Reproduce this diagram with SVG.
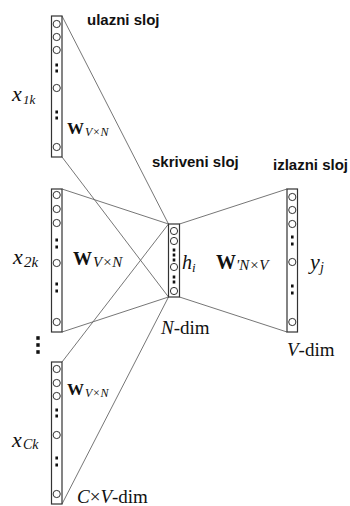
<svg xmlns="http://www.w3.org/2000/svg" width="350" height="506" viewBox="0 0 350 506">
<style>
.box{fill:#fff;stroke:#333;stroke-width:1.2}
.c{fill:#fff;stroke:#333;stroke-width:1}
.d{fill:#111}
.ln{stroke:#666;stroke-width:0.9;fill:none}
.lab{font-family:"Liberation Sans",Arial,sans-serif;font-weight:bold;font-size:15px;fill:#111}
.m{font-family:"Liberation Serif","Times New Roman",serif;fill:#111}
.it{font-style:italic}
.b{font-weight:bold}
</style>
<defs>
<circle id="o" r="3.6" class="c"/>
<rect id="sq" x="-1.3" y="-1.5" width="2.6" height="3" class="d"/>
<rect id="bsq" x="-1.7" y="-1.8" width="3.4" height="3.6" class="d"/>
</defs>
<rect width="350" height="506" fill="#fff"/>
<g id="connectors">
<line class="ln" x1="62" y1="16" x2="168.5" y2="224"/>
<line class="ln" x1="62" y1="157" x2="168.5" y2="297"/>
<line class="ln" x1="62" y1="189" x2="168.5" y2="224"/>
<line class="ln" x1="62" y1="332" x2="168.5" y2="297"/>
<line class="ln" x1="62" y1="362" x2="168.5" y2="224"/>
<line class="ln" x1="62" y1="504" x2="168.5" y2="297"/>
<line class="ln" x1="179.5" y1="224" x2="287" y2="189"/>
<line class="ln" x1="179.5" y1="297" x2="287" y2="332"/>
</g>
<g id="input1">
<rect class="box" x="51.5" y="16" width="10.5" height="141"/>
<use href="#o" x="56.7" y="24"/><use href="#o" x="56.7" y="37"/><use href="#o" x="56.7" y="50"/>
<use href="#sq" x="56.7" y="65"/><use href="#sq" x="56.7" y="71"/>
<use href="#o" x="56.7" y="88"/>
<use href="#sq" x="56.7" y="112"/><use href="#sq" x="56.7" y="118"/>
<use href="#o" x="56.7" y="147"/>
</g>
<g id="input2">
<rect class="box" x="51.5" y="189" width="10.5" height="143"/>
<use href="#o" x="56.7" y="195"/><use href="#o" x="56.7" y="209"/><use href="#o" x="56.7" y="223"/>
<use href="#sq" x="56.7" y="240"/><use href="#sq" x="56.7" y="247"/>
<use href="#o" x="56.7" y="263"/>
<use href="#sq" x="56.7" y="284"/><use href="#sq" x="56.7" y="291"/>
<use href="#o" x="56.7" y="322"/>
</g>
<g id="input3">
<rect class="box" x="51.5" y="362" width="10.5" height="142"/>
<use href="#o" x="56.7" y="369"/><use href="#o" x="56.7" y="383"/><use href="#o" x="56.7" y="396"/>
<use href="#sq" x="56.7" y="410"/><use href="#sq" x="56.7" y="416"/>
<use href="#o" x="56.7" y="435"/>
<use href="#sq" x="56.7" y="458"/><use href="#sq" x="56.7" y="465"/>
<use href="#o" x="56.7" y="494"/>
</g>
<g id="more-inputs">
<use href="#bsq" x="38" y="338"/><use href="#bsq" x="38" y="345"/><use href="#bsq" x="38" y="352"/>
</g>
<g id="hidden">
<rect class="box" x="168.5" y="224" width="11" height="73"/>
<use href="#o" x="174" y="231"/><use href="#o" x="174" y="241"/>
<use href="#sq" x="174" y="250"/><use href="#sq" x="174" y="255"/><use href="#sq" x="174" y="260"/>
<use href="#o" x="174" y="267"/>
<use href="#sq" x="174" y="277"/><use href="#sq" x="174" y="282"/>
<use href="#o" x="174" y="291"/>
</g>
<g id="output">
<rect class="box" x="287" y="189" width="10.5" height="143"/>
<use href="#o" x="292.3" y="197"/><use href="#o" x="292.3" y="210"/><use href="#o" x="292.3" y="224"/>
<use href="#sq" x="292.3" y="237"/><use href="#sq" x="292.3" y="244"/>
<use href="#o" x="292.3" y="262"/>
<use href="#sq" x="292.3" y="286"/><use href="#sq" x="292.3" y="293"/>
<use href="#o" x="292.3" y="322"/>
</g>
<g id="labels">
<text class="lab" x="87" y="25">ulazni sloj</text>
<text class="lab" x="152" y="167">skriveni sloj</text>
<text class="lab" x="273" y="170">izlazni sloj</text>
<text class="m it" x="12" y="101" font-size="22">x<tspan x="23" dy="3" font-size="13">1k</tspan></text>
<text class="m" x="67" y="134"><tspan class="b" font-size="17">W</tspan><tspan class="it" x="85" dy="2" font-size="12">V×N</tspan></text>
<text class="m it" x="13" y="264" font-size="22">x<tspan x="24" dy="3" font-size="15">2k</tspan></text>
<text class="m" x="73" y="265"><tspan class="b" font-size="19">W</tspan><tspan class="it" x="93" dy="2" font-size="15">V×N</tspan></text>
<text class="m it" x="12" y="447" font-size="22">x<tspan x="23" dy="2" font-size="14">Ck</tspan></text>
<text class="m" x="67" y="395"><tspan class="b" font-size="17">W</tspan><tspan class="it" x="85" dy="2" font-size="12">V×N</tspan></text>
<text class="m it" x="182" y="269" font-size="20">h<tspan x="192" dy="3" font-size="13">i</tspan></text>
<text class="m" x="216" y="269"><tspan class="b" font-size="20">W</tspan><tspan class="it" x="236" dy="1" font-size="15">'N×V</tspan></text>
<text class="m it" x="310" y="269" font-size="22">y<tspan x="320" dy="3" font-size="14">j</tspan></text>
<text class="m" x="161" y="334" font-size="19"><tspan class="it">N</tspan>-dim</text>
<text class="m" x="287" y="356" font-size="19"><tspan class="it">V</tspan>-dim</text>
<text class="m" x="77" y="503" font-size="19"><tspan class="it">C</tspan>×<tspan class="it">V</tspan>-dim</text>
</g>
</svg>
